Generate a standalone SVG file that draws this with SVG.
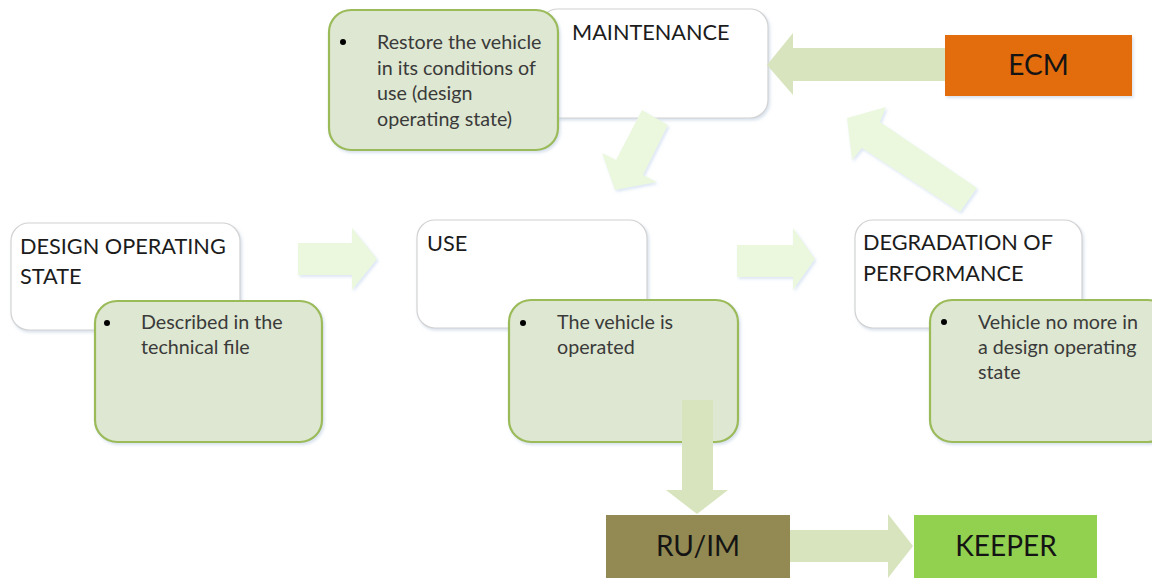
<svg xmlns="http://www.w3.org/2000/svg" width="1152" height="578" viewBox="0 0 1152 578">
<defs>
<filter id="sh" x="-10%" y="-10%" width="130%" height="130%">
<feDropShadow dx="1.5" dy="2" stdDeviation="1.8" flood-color="#b8c8dc" flood-opacity="0.55"/>
</filter>
<filter id="ash" x="-20%" y="-20%" width="140%" height="140%">
<feDropShadow dx="1.5" dy="2" stdDeviation="1.8" flood-color="#c6d6ee" flood-opacity="0.6"/>
</filter>
</defs>
<style>
.wbox{fill:#ffffff;stroke:#d2d2d2;stroke-width:1.2;filter:url(#sh)}
.gbox{fill:#dee7d1;stroke:#9bbb59;stroke-width:2.2;filter:url(#sh)}
.head{font-family:Lato,"Liberation Sans",sans-serif;font-size:21.7px;fill:#1c1c1c}
.body{font-family:Lato,"Liberation Sans",sans-serif;font-size:19.7px;fill:#3a3a3a}
.big{font-family:Lato,"Liberation Sans",sans-serif;font-size:28px;fill:#141414;text-anchor:middle}
.bul{fill:#000}
.pale{fill:#ebf8de;filter:url(#ash)}
.dark{fill:#d7e4bd}
</style>
<rect width="1152" height="578" fill="#ffffff"/>

<g id="maintenance">
<rect class="wbox" x="540" y="9" width="228" height="109" rx="18"/>
<text class="head" x="572" y="40">MAINTENANCE</text>
</g>
<g id="maintenance-note">
<rect class="gbox" x="329" y="10" width="229" height="140" rx="22"/>
<circle class="bul" cx="343" cy="42" r="3"/>
<text class="body" x="377" y="49">Restore the vehicle</text>
<text class="body" x="377" y="74.5">in its conditions of</text>
<text class="body" x="377" y="100">use (design</text>
<text class="body" x="377" y="125.5">operating state)</text>
</g>

<g id="ecm">
<rect x="945" y="35" width="187" height="61" fill="#e36c09" filter="url(#sh)"/>
<text class="big" x="1038.5" y="75">ECM</text>
</g>

<g id="design-operating-state">
<rect class="wbox" x="11" y="223" width="229" height="107" rx="18"/>
<text class="head" x="20" y="254">DESIGN OPERATING</text>
<text class="head" x="20" y="284">STATE</text>
</g>
<g id="design-note">
<rect class="gbox" x="95" y="301" width="227" height="141" rx="22"/>
<circle class="bul" cx="107" cy="323" r="3"/>
<text class="body" x="141" y="329">Described in the</text>
<text class="body" x="141" y="354">technical file</text>
</g>

<g id="use">
<rect class="wbox" x="417" y="220" width="230" height="108" rx="18"/>
<text class="head" x="427" y="251">USE</text>
</g>
<g id="use-note">
<rect class="gbox" x="509" y="300" width="229" height="142" rx="22"/>
<circle class="bul" cx="523" cy="323" r="3"/>
<text class="body" x="557" y="329">The vehicle is</text>
<text class="body" x="557" y="354">operated</text>
</g>

<g id="degradation">
<rect class="wbox" x="855" y="220" width="227" height="108" rx="18"/>
<text class="head" x="863" y="250">DEGRADATION OF</text>
<text class="head" x="863" y="281">PERFORMANCE</text>
</g>
<g id="degradation-note">
<rect class="gbox" x="930" y="300" width="240" height="142" rx="22"/>
<circle class="bul" cx="944" cy="322" r="3"/>
<text class="body" x="978" y="329">Vehicle no more in</text>
<text class="body" x="978" y="354">a design operating</text>
<text class="body" x="978" y="379">state</text>
</g>

<g id="ru-im">
<rect x="606" y="515" width="184" height="63" fill="#938953"/>
<text class="big" x="698" y="556">RU/IM</text>
</g>
<g id="keeper">
<rect x="914" y="515" width="183" height="63" fill="#92d050"/>
<text class="big" x="1006" y="556">KEEPER</text>
</g>

<g id="connectors">
<polygon class="dark" points="945,48 793,48 793,33 767,65 793,95 793,81 945,81"/>
<polygon class="pale" points="977,188 880,122 886,107 847,118 852,160 862,148 960,212"/>
<polygon class="pale" points="642,110 668,125 643,175 657,182 615,190 602,153 616,160"/>
<polygon class="pale" points="298,243 352,243 352,228 377,259 352,290 352,275 298,275"/>
<polygon class="pale" points="737,245 793,245 793,228 815,259 793,290 793,277 737,277"/>
<polygon class="dark" points="682,400 713,400 713,490 728,490 697,514 666,490 682,490"/>
<polygon class="dark" points="790,530 888,530 888,514 913,546 888,578 888,562 790,562"/>
</g>
</svg>
